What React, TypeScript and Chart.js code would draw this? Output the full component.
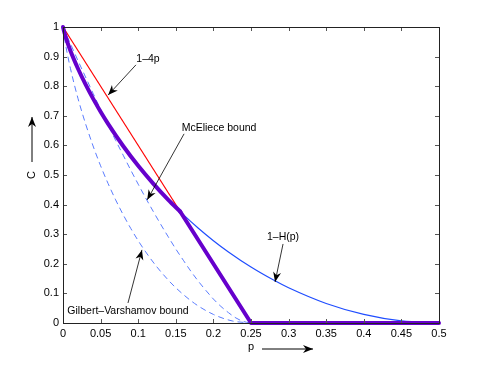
import React, { useEffect, useRef } from 'react';
import { Chart, registerables } from 'chart.js';

Chart.register(...registerables);

// 1-H(p)
const pHamming = [0, 0.001, 0.005, 0.01, 0.02, 0.03, 0.04, 0.05, 0.06, 0.08, 0.1, 0.12, 0.14, 0.16, 0.18, 0.2, 0.22, 0.25, 0.28, 0.3, 0.35, 0.4, 0.45, 0.5];
const cHamming = [1, 0.989, 0.955, 0.919, 0.859, 0.806, 0.758, 0.714, 0.673, 0.598, 0.531, 0.471, 0.416, 0.366, 0.32, 0.278, 0.24, 0.189, 0.145, 0.119, 0.066, 0.029, 0.007, 0];

// Gilbert-Varshamov bound
const pGV = [0, 0.0005, 0.0025, 0.005, 0.01, 0.015, 0.02, 0.025, 0.03, 0.04, 0.05, 0.06, 0.07, 0.08, 0.09, 0.1, 0.11, 0.125, 0.14, 0.15, 0.175, 0.2, 0.225, 0.25];
const cGV = [1, 0.989, 0.955, 0.919, 0.859, 0.806, 0.758, 0.714, 0.673, 0.598, 0.531, 0.471, 0.416, 0.366, 0.32, 0.278, 0.24, 0.189, 0.145, 0.119, 0.066, 0.029, 0.007, 0];

// McEliece bound
const pMcE = [0, 0.0025, 0.005, 0.01, 0.02, 0.03, 0.04, 0.05, 0.06, 0.07, 0.08, 0.09, 0.1, 0.11, 0.12, 0.13, 0.14, 0.15, 0.16, 0.17, 0.18, 0.19, 0.2, 0.21, 0.22, 0.23, 0.24, 0.25];
const cMcE = [1, 0.986, 0.971, 0.943, 0.886, 0.831, 0.776, 0.722, 0.669, 0.617, 0.567, 0.517, 0.469, 0.422, 0.377, 0.333, 0.291, 0.25, 0.212, 0.175, 0.141, 0.11, 0.081, 0.056, 0.035, 0.017, 0.005, 0];

// 1-4p
const pLine = [0, 0.25];
const cLine = [1, 0];

// combined bound (thick)
const pBoundCurve = [0, 0.001, 0.005, 0.01, 0.02, 0.03, 0.04, 0.05, 0.06, 0.08, 0.1, 0.12, 0.14, 0.156];
const cBoundCurve = [1, 0.989, 0.955, 0.919, 0.859, 0.806, 0.758, 0.714, 0.673, 0.598, 0.531, 0.471, 0.416, 0.376];
const pBoundLine = [0.156, 0.25, 0.5];
const cBoundLine = [0.376, 0, 0];

// annotations: text position, arrow start, arrow tip (data units)
const annTexts = ['1\u20134p', 'McEliece bound', 'Gilbert\u2013Varshamov bound', '1\u2013H(p)'];
const annTextPos = [[0.113, 0.892], [0.2075, 0.659], [0.0864, 0.0416], [0.2926, 0.2905]];
const annFrom = [[0.097, 0.872], [0.161, 0.639], [0.0864, 0.0676], [0.2926, 0.267]];
const annTo = [[0.06, 0.77], [0.112, 0.416], [0.105, 0.247], [0.282, 0.1385]];

const xTitle = 'p';
const yTitle = 'C';

const FONT = '"Liberation Sans", Arial, Helvetica, sans-serif';

const pts = (xs: number[], ys: number[]) => xs.map((x, i) => ({ x, y: ys[i] }));

function drawArrowHead(ctx: CanvasRenderingContext2D, x1: number, y1: number, x2: number, y2: number) {
  const ang = Math.atan2(y2 - y1, x2 - x1);
  const len = 10;
  const hw = 4;
  const notch = 3;
  ctx.save();
  ctx.translate(x2, y2);
  ctx.rotate(ang);
  ctx.beginPath();
  ctx.moveTo(0, 0);
  ctx.lineTo(-len, -hw);
  ctx.lineTo(-len + notch, 0);
  ctx.lineTo(-len, hw);
  ctx.closePath();
  ctx.fill();
  ctx.restore();
}

const decorPlugin = {
  id: 'decor',
  afterDraw(chart: any) {
    const ctx: CanvasRenderingContext2D = chart.ctx;
    const { left, right, top, bottom } = chart.chartArea;
    const xs = chart.scales.x;
    const ys = chart.scales.y;
    ctx.save();
    ctx.strokeStyle = '#555';
    ctx.lineWidth = 1;
    const tl = 4;
    ctx.beginPath();
    xs.ticks.forEach((t: any) => {
      const px = Math.round(xs.getPixelForValue(t.value)) + 0.5;
      ctx.moveTo(px, bottom);
      ctx.lineTo(px, bottom - tl);
      ctx.moveTo(px, top);
      ctx.lineTo(px, top + tl);
    });
    ys.ticks.forEach((t: any) => {
      const py = Math.round(ys.getPixelForValue(t.value)) + 0.5;
      ctx.moveTo(left, py);
      ctx.lineTo(left + tl, py);
      ctx.moveTo(right, py);
      ctx.lineTo(right - tl, py);
    });
    ctx.stroke();
    ctx.strokeStyle = '#222';
    ctx.lineWidth = 1;
    ctx.strokeRect(Math.round(left) + 0.5, Math.round(top) + 0.5, Math.round(right - left), Math.round(bottom - top));

    ctx.fillStyle = '#000';
    ctx.strokeStyle = '#000';
    ctx.font = `10.5px ${FONT}`;
    ctx.textAlign = 'center';
    ctx.textBaseline = 'middle';
    annTexts.forEach((txt, i) => {
      const tx = xs.getPixelForValue(annTextPos[i][0]);
      const ty = ys.getPixelForValue(annTextPos[i][1]);
      ctx.fillText(txt, tx, ty);
      const x1 = xs.getPixelForValue(annFrom[i][0]);
      const y1 = ys.getPixelForValue(annFrom[i][1]);
      const x2 = xs.getPixelForValue(annTo[i][0]);
      const y2 = ys.getPixelForValue(annTo[i][1]);
      ctx.lineWidth = 0.8;
      ctx.beginPath();
      ctx.moveTo(x1, y1);
      ctx.lineTo(x2, y2);
      ctx.stroke();
      drawArrowHead(ctx, x1, y1, x2, y2);
    });

    ctx.font = `11px ${FONT}`;
    const cx = (left + right) / 2;
    const pY = bottom + 24;
    ctx.fillText(xTitle, cx, pY);
    ctx.lineWidth = 1;
    ctx.beginPath();
    ctx.moveTo(cx + 11, pY + 2);
    ctx.lineTo(cx + 62, pY + 2);
    ctx.stroke();
    drawArrowHead(ctx, cx + 11, pY + 2, cx + 62, pY + 2);

    const cy = (top + bottom) / 2;
    const cX = left - 31;
    ctx.save();
    ctx.translate(cX, cy);
    ctx.rotate(-Math.PI / 2);
    ctx.fillText(yTitle, 0, 0);
    ctx.restore();
    ctx.beginPath();
    ctx.moveTo(cX, cy - 13);
    ctx.lineTo(cX, cy - 58);
    ctx.stroke();
    drawArrowHead(ctx, cX, cy - 13, cX, cy - 58);
    ctx.restore();
  },
};

export default function App() {
  const ref = useRef<HTMLCanvasElement | null>(null);
  useEffect(() => {
    if (!ref.current) return;
    const fmt = (v: any) => String(+Number(v).toFixed(2));
    const chart = new Chart(ref.current, {
      type: 'scatter',
      data: {
        datasets: [
          {
            data: pts(pBoundLine, cBoundLine),
            showLine: true,
            borderColor: '#6600cc',
            borderWidth: 4,
            borderCapStyle: 'round',
            borderJoinStyle: 'round',
            pointRadius: 0,
            tension: 0,
            clip: false,
            order: 0,
          },
          {
            data: pts(pBoundCurve, cBoundCurve),
            showLine: true,
            borderColor: '#6600cc',
            borderWidth: 4,
            borderCapStyle: 'round',
            pointRadius: 0,
            cubicInterpolationMode: 'monotone',
            clip: false,
            order: 1,
          },
          {
            data: pts(pLine, cLine),
            showLine: true,
            borderColor: '#ff0000',
            borderWidth: 1.2,
            pointRadius: 0,
            clip: false,
            order: 2,
          },
          {
            data: pts(pHamming, cHamming),
            showLine: true,
            borderColor: '#1f4dff',
            borderWidth: 1.2,
            pointRadius: 0,
            cubicInterpolationMode: 'monotone',
            clip: false,
            order: 3,
          },
          {
            data: pts(pMcE, cMcE),
            showLine: true,
            borderColor: '#5a7cff',
            borderWidth: 1,
            borderDash: [6, 4],
            pointRadius: 0,
            cubicInterpolationMode: 'monotone',
            clip: false,
            order: 4,
          },
          {
            data: pts(pGV, cGV),
            showLine: true,
            borderColor: '#5a7cff',
            borderWidth: 1,
            borderDash: [6, 4],
            pointRadius: 0,
            cubicInterpolationMode: 'monotone',
            clip: false,
            order: 5,
          },
        ],
      },
      options: {
        responsive: false,
        animation: false,
        layout: { padding: { top: 27, right: 46, left: 0, bottom: 0 } },
        plugins: { legend: { display: false }, tooltip: { enabled: false } },
        scales: {
          x: {
            type: 'linear',
            min: 0,
            max: 0.5,
            grid: { display: false, drawTicks: false },
            border: { display: false },
            ticks: {
              stepSize: 0.05,
              callback: fmt,
              color: '#000',
              font: { family: FONT, size: 11 },
              padding: 4,
              maxRotation: 0,
              autoSkip: false,
            },
            afterFit: (s: any) => {
              s.height = 42;
            },
          },
          y: {
            type: 'linear',
            min: 0,
            max: 1,
            grid: { display: false, drawTicks: false },
            border: { display: false },
            ticks: {
              stepSize: 0.1,
              callback: fmt,
              color: '#000',
              font: { family: FONT, size: 11 },
              padding: 4,
              autoSkip: false,
            },
            afterFit: (s: any) => {
              s.width = 63;
            },
          },
        },
      },
      plugins: [decorPlugin],
    } as any);
    return () => chart.destroy();
  }, []);
  return (
    <div style={{ position: 'fixed', left: 0, top: 0, width: 485, height: 365, background: '#fff' }}>
      <canvas ref={ref} width={485} height={365} />
    </div>
  );
}
